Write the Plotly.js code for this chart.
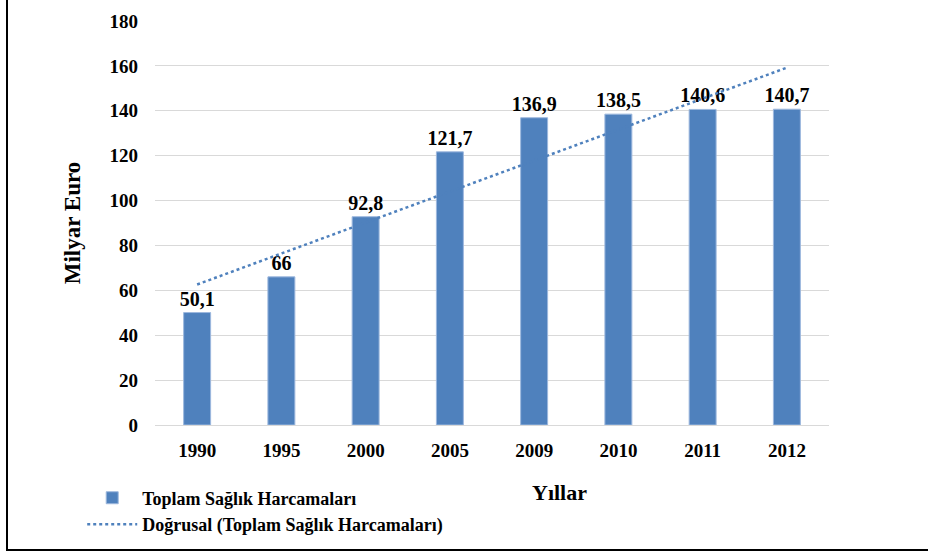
<!DOCTYPE html>
<html>
<head>
<meta charset="utf-8">
<script src="https://cdn.plot.ly/plotly-3.0.1.min.js"></script>
<style>
  html, body { margin: 0; padding: 0; background: #fff; overflow: hidden; }
  #wrap { position: relative; width: 928px; height: 555px; }
  #chart { position: absolute; left: 0; top: 0; width: 928px; height: 555px; }
  #frame { position: absolute; left: 6px; top: -4px; width: 930px; height: 555px;
           border-left: 2px solid #000; border-bottom: 2px solid #000; box-sizing: border-box;
           pointer-events: none; }
</style>
</head>
<body>
<div id="wrap">
  <div id="chart"></div>
  <div id="frame"></div>
</div>
<script>
// Data
const years = ['1990', '1995', '2000', '2005', '2009', '2010', '2011', '2012'];
const spending = [50.1, 66, 92.8, 121.7, 136.9, 138.5, 140.6, 140.7];
const yTicks = [0, 20, 40, 60, 80, 100, 120, 140, 160, 180];
const barName = 'Toplam Sağlık Harcamaları';
const trendName = 'Doğrusal (Toplam Sağlık Harcamaları)';

// Linear trend (least squares over category index, as a spreadsheet trendline)
const n = spending.length;
const xs = spending.map((_, i) => i + 1);
const mx = xs.reduce((a, b) => a + b, 0) / n;
const my = spending.reduce((a, b) => a + b, 0) / n;
let sxy = 0, sxx = 0;
for (let i = 0; i < n; i++) { sxy += (xs[i] - mx) * (spending[i] - my); sxx += (xs[i] - mx) ** 2; }
const slope = sxy / sxx;
const intercept = my - slope * mx;
const trend = xs.map(x => intercept + slope * x);

const labels = spending.map(v => String(v).replace('.', ','));
const serif = 'Liberation Serif';
const blue = '#4F81BD';

const trendTrace = {
  type: 'scatter', mode: 'lines', x: years, y: trend, name: trendName,
  line: { color: blue, width: 2.5, dash: 'dot' },
  legendrank: 2, hoverinfo: 'skip'
};
const barTrace = {
  type: 'bar', x: years, y: spending, name: barName,
  marker: { color: blue, line: { color: '#9DB8DE', width: 1 } },
  text: labels, textposition: 'outside', cliponaxis: false, constraintext: 'none',
  textfont: { family: serif, size: 20, color: '#000', weight: 700 },
  legendrank: 1
};

const layout = {
  width: 928, height: 555,
  margin: { l: 155, r: 99, t: 21, b: 126 },
  paper_bgcolor: '#fff', plot_bgcolor: '#fff',
  font: { family: serif, color: '#000', weight: 700 },
  bargap: 0.68,
  showlegend: true,
  legend: {
    x: -0.108, xanchor: 'left', y: -0.135, yanchor: 'top',
    orientation: 'v', itemwidth: 50, tracegroupgap: 0,
    font: { family: serif, size: 18, color: '#000', weight: 700 },
    bgcolor: 'rgba(0,0,0,0)'
  },
  xaxis: {
    type: 'category', showgrid: false, zeroline: false, showline: false,
    ticks: '', ticklabelstandoff: 12,
    tickfont: { family: serif, size: 19, color: '#000', weight: 700 }
  },
  yaxis: {
    range: [0, 180], tickvals: yTicks, ticktext: yTicks.map(String),
    showgrid: true, gridcolor: '#D9D9D9', gridwidth: 1,
    zeroline: true, zerolinecolor: '#D9D9D9', zerolinewidth: 1,
    showline: false, ticks: '', ticklabelstandoff: 16,
    tickfont: { family: serif, size: 19, color: '#000', weight: 700 },
    title: { text: 'Milyar Euro', standoff: 22,
             font: { family: serif, size: 23, color: '#000', weight: 700 } }
  },
  annotations: [{
    text: 'Yıllar', xref: 'paper', yref: 'paper',
    x: (559 - 155) / 674, y: -(497 - 429) / 408, xanchor: 'center', yanchor: 'middle',
    showarrow: false, font: { family: serif, size: 22, color: '#000', weight: 700 }
  }]
};

Plotly.newPlot('chart', [trendTrace, barTrace], layout, { displayModeBar: false, staticPlot: true });
</script>
</body>
</html>
